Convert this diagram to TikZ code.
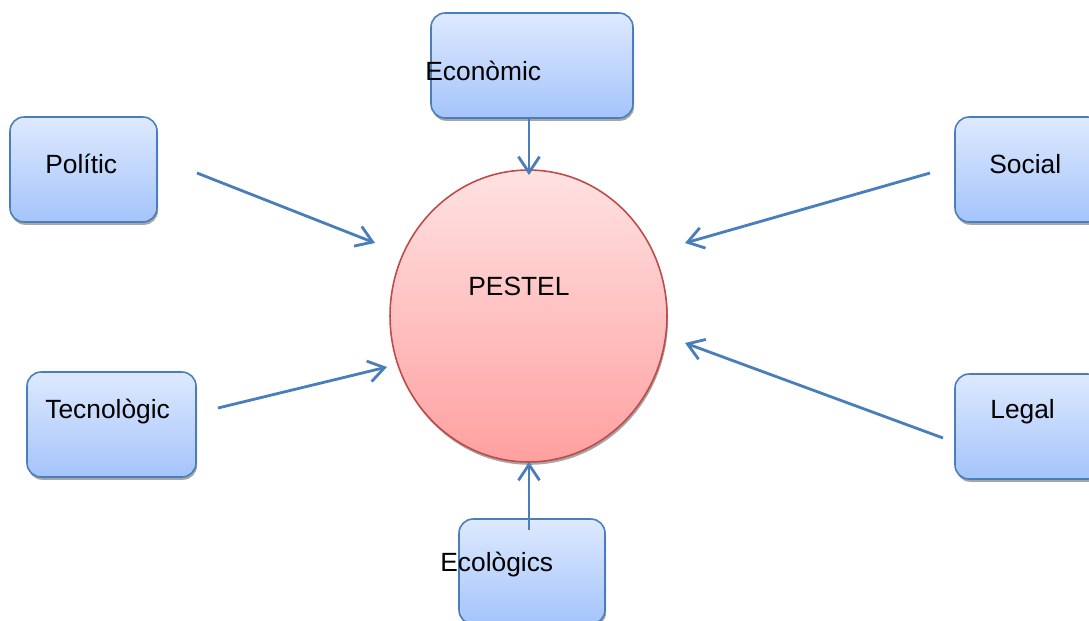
\documentclass[tikz,border=0pt]{standalone}
\usepackage{fontspec}
\setmainfont{Liberation Sans}
\usepackage{tikz}
\usetikzlibrary{arrows.meta,shadows,shapes.geometric}
\definecolor{boxline}{RGB}{74,126,187}
\definecolor{boxtop}{RGB}{222,233,254}
\definecolor{boxbot}{RGB}{164,196,251}
\definecolor{circline}{RGB}{190,75,72}
\definecolor{circtop}{RGB}{255,226,226}
\definecolor{circbot}{RGB}{255,160,160}
\tikzset{>={Straight Barb[length=9pt,width=12pt]}}
\tikzset{
    factor/.style={draw=boxline, line width=0.9pt, rounded corners=8pt,
        top color=boxtop, bottom color=boxbot, minimum height=2.1cm,
        drop shadow={shadow xshift=0.6pt, shadow yshift=-1.6pt, fill=black!50, opacity=0.7}},
    factxt/.style={anchor=base west, inner sep=0pt, font=\fontsize{15}{18}\selectfont},
    link/.style={draw=boxline, line width=1.6pt, ->}
}

\begin{document}
\begin{tikzpicture}[x=0.02cm,y=-0.02cm]
        \useasboundingbox (0,0) rectangle (1089,620);
        \clip (0,0) rectangle (1089,620);
        %%%
        \node[ellipse, draw=circline, line width=0.9pt, top color=circtop, bottom color=circbot,
            minimum width=5.54cm, minimum height=5.84cm,
            drop shadow={shadow xshift=0.6pt, shadow yshift=-1.6pt, fill=black!50, opacity=0.7}] (pestel) at (528.5,316) {};
        \node[factxt] (pesteltxt) at (468,295) {PESTEL};
        %%%
        \node[factor, minimum width=4.04cm] (econ) at (532,65.5) {};
        \node[factor, minimum width=2.94cm] (pol) at (83.5,169.5) {};
        \node[factor, minimum width=2.94cm] (soc) at (1028.5,169.5) {};
        \node[factor, minimum width=3.38cm] (tec) at (111.5,424.5) {};
        \node[factor, minimum width=2.94cm] (leg) at (1028.5,426.5) {};
        \node[factor, minimum width=2.92cm] (eco) at (532,571.5) {};
        %%%
        \node[factxt] (econtxt) at (425,80) {Econòmic};
        \node[factxt] (poltxt) at (45,173) {Polític};
        \node[factxt] (soctxt) at (989,173) {Social};
        \node[factxt] (tectxt) at (45,418) {Tecnològic};
        \node[factxt] (legtxt) at (990,418) {Legal};
        \node[factxt] (ecotxt) at (440,571) {Ecològics};
        %%%
        \coordinate (econ-out) at (529,118);
        \coordinate (econ-in) at (529,175);
        \coordinate (pol-out) at (197,173);
        \coordinate (pol-in) at (375,243);
        \coordinate (soc-out) at (930,173);
        \coordinate (soc-in) at (685,243);
        \coordinate (tec-out) at (218,408);
        \coordinate (tec-in) at (387,367);
        \coordinate (leg-out) at (943,438);
        \coordinate (leg-in) at (685,343);
        \coordinate (eco-out) at (529,530);
        \coordinate (eco-in) at (529,462);
        %%%
        \draw[link] (econ-out) -- (econ-in);
        \draw[link] (pol-out) -- (pol-in);
        \draw[link] (soc-out) -- (soc-in);
        \draw[link] (tec-out) -- (tec-in);
        \draw[link] (leg-out) -- (leg-in);
        \draw[link] (eco-out) -- (eco-in);
        %%%
    \end{tikzpicture}
\end{document}
